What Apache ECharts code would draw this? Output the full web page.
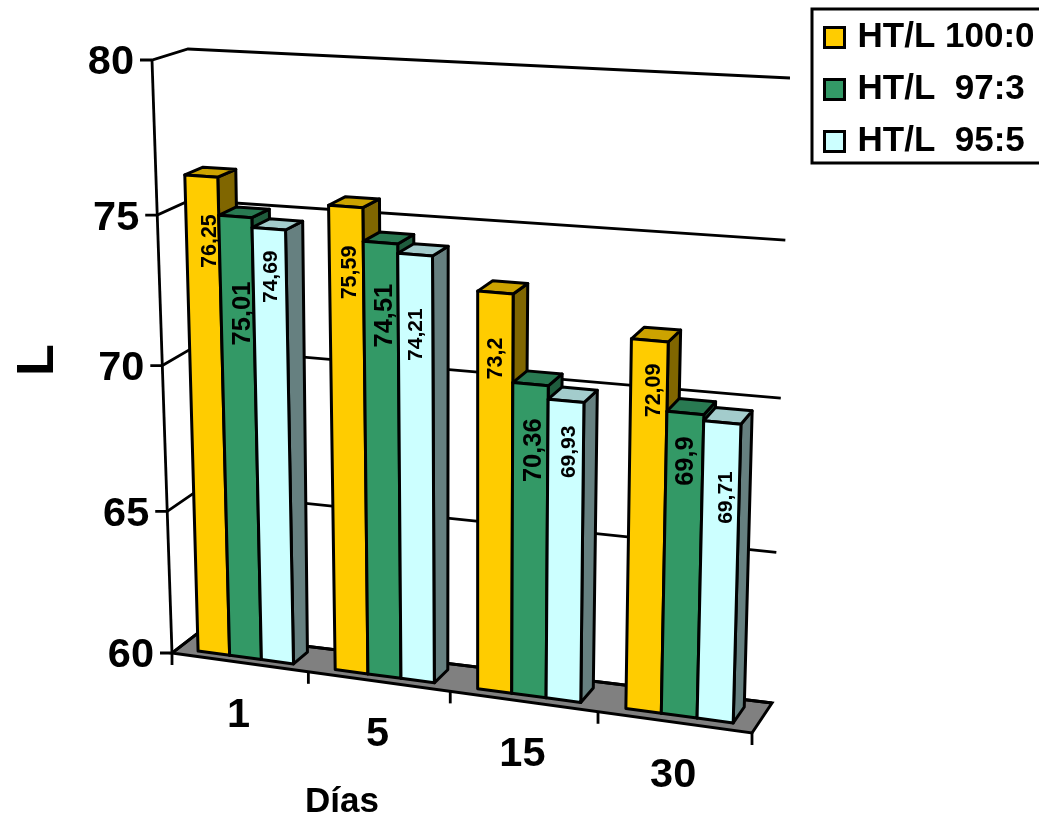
<!DOCTYPE html>
<html>
<head>
<meta charset="utf-8">
<style>html,body{margin:0;padding:0;background:#fff}#chart{width:1039px;height:818px}</style>
<script src="https://cdn.jsdelivr.net/npm/echarts@6/dist/echarts.min.js"></script>
</head>
<body>
<div id="chart"></div>
<script>
// Lightness (L) by storage day for three HT/L blends
const categories = ['1', '5', '15', '30'];
const blendNames = ['HT/L 100:0', 'HT/L  97:3', 'HT/L  95:5'];
const blend100 = [76.25, 75.59, 73.2, 72.09];
const blend97 = [75.01, 74.51, 70.36, 69.9];
const blend95 = [74.69, 74.21, 69.93, 69.71];
const valueTicks = [60, 65, 70, 75, 80];

// Face colours per blend: front, side, top
const palette = [
  ['#FFCC00', '#806600', '#CCA300'],
  ['#339966', '#1F5C3D', '#297A52'],
  ['#CCFFFF', '#668080', '#A3CCCC']
];
// Label placement inside each bar: pixels below its top edge and across its centre
const labelDrop = [
  [65, 66, 66, 50],
  [97, 73, 66, 48],
  [48, 80, 51, 75]
];
const labelShift = [
  [8.5, 4.5, 1, 4.5],
  [8, 5, 3.5, 1],
  [2, 1, 3, 4]
];
const labelSize = [21.5, 25.5, 21];

const FONT = '"Liberation Sans", Arial, sans-serif';
const INK = '#000';

// Corners of the floor-to-ceiling box on screen: (0,0) (1,0) (1,1) (0,1)
const frontPlane = [[172, 653], [752, 733], [770, 92], [152, 60]];
const backPlane = [[198, 633], [772, 703], [790, 78], [188, 49]];

function squareToQuad(q) {
  const [p0, p1, p2, p3] = q;
  const dx1 = p1[0] - p2[0], dx2 = p3[0] - p2[0], sx = p0[0] - p1[0] + p2[0] - p3[0];
  const dy1 = p1[1] - p2[1], dy2 = p3[1] - p2[1], sy = p0[1] - p1[1] + p2[1] - p3[1];
  const det = dx1 * dy2 - dx2 * dy1;
  const g = (sx * dy2 - dx2 * sy) / det, h = (dx1 * sy - sx * dy1) / det;
  const a = p1[0] - p0[0] + g * p1[0], b = p3[0] - p0[0] + h * p3[0], c = p0[0];
  const d = p1[1] - p0[1] + g * p1[1], e = p3[1] - p0[1] + h * p3[1], f = p0[1];
  return (u, v) => {
    const k = g * u + h * v + 1;
    return [(a * u + b * v + c) / k, (d * u + e * v + f) / k];
  };
}
const frontMap = squareToQuad(frontPlane);
const backMap = squareToQuad(backPlane);

// u along the days, v up the value axis, w from front (0) to back (1)
function project(u, v, w) {
  const f = frontMap(u, v), b = backMap(u, v);
  return [f[0] + (b[0] - f[0]) * w, f[1] + (b[1] - f[1]) * w];
}
// Normalise a grid pixel from the library's axes into (u, v)
function unit(params, pt) {
  const g = params.coordSys;
  return [(pt[0] - g.x) / g.width, (g.y + g.height - pt[1]) / g.height];
}

const BAR_SPAN = 0.70, W0 = 0.23, W1 = 0.77, STROKE = 3, AXIS_STROKE = 2.8;

function renderBar(s) {
  return function (params, api) {
    const cat = api.value(0), val = api.value(1);
    const [uc, vt] = unit(params, api.coord([cat, val]));
    const [, v0] = unit(params, api.coord([cat, valueTicks[0]]));
    const band = api.size([1, 0])[0] / params.coordSys.width;
    const bw = band * BAR_SPAN / 3;
    const uL = uc - band * BAR_SPAN / 2 + s * bw, uR = uL + bw;
    const [cFront, cSide, cTop] = palette[s];
    const face = (pts, fill) => ({
      type: 'polygon', shape: { points: pts },
      style: { fill, stroke: INK, lineWidth: STROKE, lineJoin: 'round' }
    });
    const tl = project(uL, vt, W0), tr = project(uR, vt, W0);
    const cx = (tl[0] + tr[0]) / 2;
    const text = String(val).replace('.', ',');
    return {
      type: 'group',
      children: [
        face([project(uR, v0, W0), project(uR, v0, W1), project(uR, vt, W1), tr], cSide),
        face([tl, tr, project(uR, vt, W1), project(uL, vt, W1)], cTop),
        face([project(uL, v0, W0), project(uR, v0, W0), tr, tl], cFront),
        {
          type: 'text', x: cx + labelShift[s][cat], y: (tl[1] + tr[1]) / 2 + labelDrop[s][cat], rotation: Math.PI / 2,
          style: { text, fill: INK, font: 'bold ' + labelSize[s] + 'px ' + FONT, align: 'center', verticalAlign: 'middle' }
        }
      ]
    };
  };
}

// Floor, wall grid lines, front value axis with its ticks and labels
function renderValueFrame(params, api) {
  const val = api.value(1);
  const [, v] = unit(params, api.coord([0, val]));
  const a = project(0, v, 0), b = project(0, v, 1), c = project(1, v, 1);
  const line = { stroke: INK, lineWidth: AXIS_STROKE, fill: null };
  const kids = [
    { type: 'polyline', shape: { points: [[a[0] - 12, a[1]], a, b, c] }, style: line },
    {
      type: 'text', x: a[0] - 18, y: a[1] + 3,
      style: { text: String(val), fill: INK, font: 'bold 41.5px ' + FONT, align: 'right', verticalAlign: 'middle' }
    }
  ];
  if (val === valueTicks[0]) {
    kids.unshift({
      type: 'polygon',
      shape: { points: [a, project(1, v, 0), project(1, v, 1), b] },
      style: { fill: '#808080', stroke: INK, lineWidth: STROKE }
    });
    kids.push({
      type: 'line',
      shape: { x1: project(0, 0, 0)[0], y1: project(0, 0, 0)[1], x2: project(0, 1, 0)[0], y2: project(0, 1, 0)[1] },
      style: { stroke: INK, lineWidth: AXIS_STROKE }
    });
  }
  return { type: 'group', children: kids };
}

// Day ticks along the front floor edge with the day labels between them
function renderDayFrame(params, api) {
  const cat = api.value(0);
  const [uc, v0] = unit(params, api.coord([cat, valueTicks[0]]));
  const band = api.size([1, 0])[0] / params.coordSys.width;
  const tick = (u) => {
    const p = project(u, v0, 0);
    return { type: 'line', shape: { x1: p[0], y1: p[1], x2: p[0], y2: p[1] + 12 }, style: { stroke: INK, lineWidth: AXIS_STROKE } };
  };
  const m = project(uc, v0, 0);
  const kids = [tick(uc + band / 2), {
    type: 'text', x: m[0] - 1, y: m[1] + 53,
    style: { text: categories[cat], fill: INK, font: 'bold 41.5px ' + FONT, align: 'center', verticalAlign: 'middle' }
  }];
  if (cat === 0) kids.push(tick(uc - band / 2));
  return { type: 'group', children: kids };
}

const barSeries = [blend100, blend97, blend95].map((values, s) => ({
  name: blendNames[s],
  type: 'custom',
  coordinateSystem: 'cartesian2d',
  renderItem: renderBar(s),
  itemStyle: { color: palette[s][0] },
  encode: { x: 0, y: 1 },
  data: values.map((v, i) => [i, v]),
  z: 5
}));

const chart = echarts.init(document.getElementById('chart'));
chart.setOption({
  animation: false,
  backgroundColor: '#fff',
  grid: { left: 172, top: 60, width: 580, height: 593 },
  xAxis: { type: 'category', data: categories, show: false },
  yAxis: { type: 'value', min: 60, max: 80, interval: 5, show: false },
  legend: {
    orient: 'vertical', left: 812, top: 9,
    padding: [11, 14, 4, 11],
    itemWidth: 20, itemHeight: 20, itemGap: 17,
    icon: 'rect',
    borderColor: INK, borderWidth: 3,
    selectedMode: false,
    itemStyle: { borderColor: INK, borderWidth: 3 },
    textStyle: { fontFamily: FONT, fontWeight: 'bold', fontSize: 35, color: INK, padding: [0, 0, 0, 8] },
    data: blendNames
  },
  graphic: [
    { type: 'text', left: 305, top: 785, style: { text: 'Días', fill: INK, font: 'bold 35px ' + FONT } },
    { type: 'text', x: 39, y: 360, rotation: Math.PI / 2, style: { text: 'L', fill: INK, font: 'bold 52px ' + FONT, align: 'center', verticalAlign: 'middle' } }
  ],
  series: [
    {
      type: 'custom', name: 'valueFrame', coordinateSystem: 'cartesian2d', renderItem: renderValueFrame,
      encode: { x: 0, y: 1 }, data: valueTicks.map(t => [0, t]), z: 1, silent: true
    },
    {
      type: 'custom', name: 'dayFrame', coordinateSystem: 'cartesian2d', renderItem: renderDayFrame,
      encode: { x: 0 }, data: categories.map((c, i) => [i, valueTicks[0]]), z: 2, silent: true
    }
  ].concat(barSeries)
});
</script>
</body>
</html>
